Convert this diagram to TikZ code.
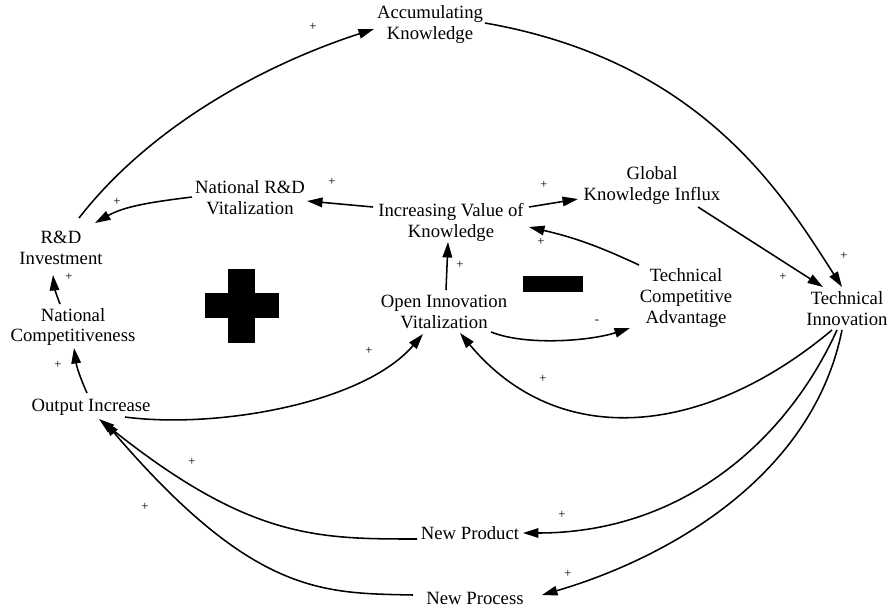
\documentclass[tikz,border=0pt]{standalone}
\usepackage{fontspec}
\setmainfont{Liberation Serif}
\usetikzlibrary{arrows.meta,calc}
\begin{document}
\begin{tikzpicture}[x=0.025cm,y=-0.025cm,
  var/.style={align=center,inner sep=0pt,font=\fontsize{13.3}{14.9}\selectfont},
  sgn/.style={inner sep=0pt,font=\fontsize{9}{9}\selectfont},
  link/.style={line width=1.1pt,-{Triangle[length=11pt,width=6.8pt]}},
  polarity/.style={fill=black}
]
\useasboundingbox (0,0) rectangle (896,612);

% variables
\node[var] (ak)  at (430,25)  {Accumulating\\Knowledge};
\node[var] (nrd) at (250,198) {National R\&D\\Vitalization};
\node[var] (rdi) at (61,248)  {R\&D\\Investment};
\node[var] (nc)  at (73,327)  {National\\Competitiveness};
\node[var] (oi)  at (91,407)  {Output Increase};
\node[var] (ivk) at (451,222) {Increasing Value of\\Knowledge};
\node[var] (gki) at (652,186) {Global\\Knowledge Influx};
\node[var] (tca) at (686,298) {Technical\\Competitive\\Advantage};
\node[var] (ti)  at (847,309) {Technical\\Innovation};
\node[var] (ovi) at (444,312) {Open Innovation\\Vitalization};
\node[var] (np)  at (470,533) {New Product};
\node[var] (npr) at (475,598) {New Process};

% loop polarity symbols
\fill[polarity] (228,269) rectangle (255,343);
\fill[polarity] (205,293) rectangle (279,318);
\fill[polarity] (523,276) rectangle (583,292);

% causal links
\draw[link] ($(rdi)+(18,-30)$) .. controls +(74,-95) and +(-105,34) .. ($(ak)+(-56,4)$);
\draw[link] ($(ak)+(55,-2)$) .. controls +(217,38) and +(-59,-92) .. ($(ti)+(-5,-22)$);
\draw[link] ($(nrd)+(-58,-1)$) .. controls +(-40,5) and +(30,-17) .. ($(rdi)+(34,-25)$);
\draw[link] ($(ivk)+(-78,-15)$) -- ($(nrd)+(57,3)$);
\draw[link] ($(ivk)+(78,-15)$) -- ($(gki)+(-74,13)$);
\draw[link] ($(gki)+(46,21)$) -- ($(ti)+(-24,-22)$);
\draw[link] ($(tca)+(-47,-33)$) to[bend right=6] ($(ivk)+(78,5)$);
\draw[link] ($(ovi)+(2,-22)$) -- ($(ivk)+(-3,20)$);
\draw[link] ($(ovi)+(47,20)$) .. controls +(35,14) and +(-40,13) .. ($(tca)+(-56,30)$);
\draw[link] ($(ti)+(-15,21)$) .. controls +(-125,105) and +(100,120) .. ($(ovi)+(16,21)$);
\draw[link] ($(oi)+(34,10)$) .. controls +(90,12) and +(-60,70) .. ($(ovi)+(-21,22)$);
\draw[link] ($(oi)+(-4,-14)$) to[bend left=8] ($(nc)+(1,21)$);
\draw[link] ($(nc)+(-13,-23)$) to[bend left=8] ($(rdi)+(-8,27)$);
\draw[link] ($(ti)+(-10,21)$) .. controls +(-50,110) and +(160,0) .. ($(np)+(53,0)$);
\draw[link] ($(ti)+(-5,21)$) .. controls +(-30,150) and +(120,-35) .. ($(npr)+(67,-3)$);
\draw[link] ($(np)+(-53,6)$) .. controls +(-100,0) and +(150,120) .. ($(oi)+(8,12)$);
\draw[link] ($(npr)+(-62,-3)$) .. controls +(-90,-2) and +(150,175) .. ($(oi)+(13,14)$);

% link polarities
\node[sgn] (p1)  at (313,27)  {+};
\node[sgn] (p2)  at (844,256) {+};
\node[sgn] (p3)  at (117,202) {+};
\node[sgn] (p4)  at (332,182) {+};
\node[sgn] (p5)  at (544,185) {+};
\node[sgn] (p6)  at (783,277) {+};
\node[sgn] (p7)  at (541,242) {+};
\node[sgn] (p8)  at (460,265) {+};
\node[sgn] (p9)  at (597,322) {-};
\node[sgn] (p10) at (543,379) {+};
\node[sgn] (p11) at (369,351) {+};
\node[sgn] (p12) at (58,365)  {+};
\node[sgn] (p13) at (69,277)  {+};
\node[sgn] (p14) at (562,515) {+};
\node[sgn] (p15) at (568,574) {+};
\node[sgn] (p16) at (192,462) {+};
\node[sgn] (p17) at (145,507) {+};
\end{tikzpicture}
\end{document}
